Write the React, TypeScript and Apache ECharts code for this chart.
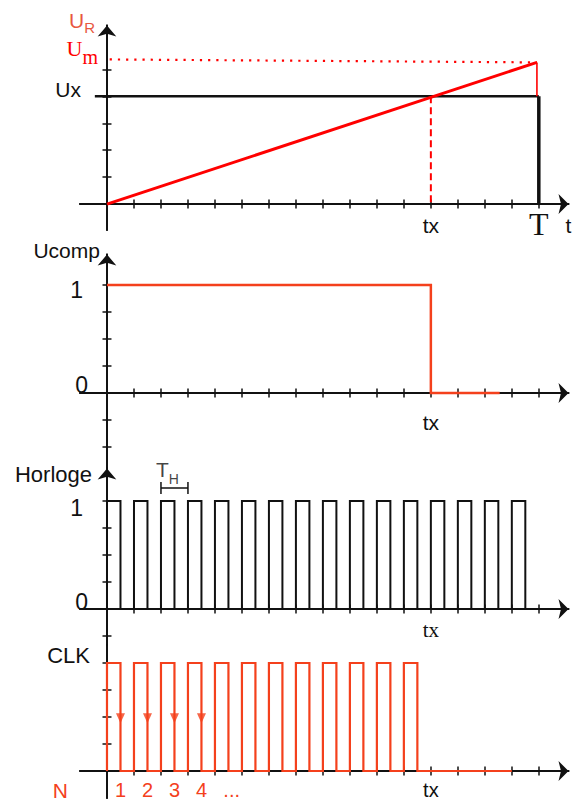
import { useEffect, useRef } from 'react';
import * as echarts from 'echarts';

// ---------- data (x in clock periods, y in grid units) ----------
// Panel 1 : ramp U_R against Ux
const uxLine = [[-0.45, 4], [16, 4]];
const uxDrop = [[16, 4], [16, 0]];
const rampLine = [[0, 0], [15.93, 5.26]];
const rampDrop = [[15.93, 5.26], [15.93, 4]];
const umDotted = [[0.1, 5.37], [15.93, 5.26]];
const txDashed = [[12, 4], [12, 0]];
// Panel 2 : comparator output
const ucompLine = [[0, 4], [12, 4], [12, 0], [14.55, 0]];
// Panel 3 : clock (rising / falling edges)
const hRise = [0, 1, 2, 3, 4, 5, 6, 7, 8, 9, 10, 11, 12, 13, 14, 15];
const hFall = [0.5, 1.5, 2.5, 3.5, 4.5, 5.5, 6.5, 7.5, 8.5, 9.5, 10.5, 11.5, 12.5, 13.5, 14.5, 15.5];
const hHigh = 4;
const thBracket = [[2, 4.7], [2, 4.26], [2, 4.48], [3, 4.48], [3, 4.7], [3, 4.26]];
const thLabelPos = [2.24, 5.15];
// Panel 4 : gated clock CLK
const clkRise = [0, 1, 2, 3, 4, 5, 6, 7, 8, 9, 10, 11];
const clkFall = [0.5, 1.5, 2.5, 3.5, 4.5, 5.5, 6.5, 7.5, 8.5, 9.5, 10.5, 11.5];
const clkHigh = 4;
const clkEnd = 15;
const clkArrowX = [0.5, 1.5, 2.5, 3.5];
const clkArrowY = 1.95;
// axis ticks / labels
const xTicks = [1, 2, 3, 4, 5, 6, 7, 8, 9, 10, 11, 12, 13, 14, 15, 16];
const nLabels = ['1', '2', '3', '4', '...'];
const nLabelX = [0.5, 1.5, 2.5, 3.5, 4.62];

const SANS = "'Liberation Sans', Arial, Helvetica, sans-serif";
const SERIF = "'Liberation Serif', 'Times New Roman', serif";
const AX = '#111111';
const RED = '#ff0000';
const RED2 = '#f4401c';
const RED_LBL = '#e8573f';

const X_MIN = -1;
const X_MAX = 17.1;
const GRID_LEFT = 80;
const GRID_WIDTH = 488.5;

const panels = [
  { top: 25.5, height: 204.5, min: -0.963, max: 6.63 },
  { top: 254.5, height: 214, min: -2.796, max: 5.13 },
  { top: 468.5, height: 176.5, min: -1.333, max: 5.204 },
  { top: 645, height: 153, min: -1.0, max: 4.667 },
];

function squareWave(rises: number[], falls: number[], high: number, end?: number) {
  const pts: number[][] = [];
  rises.forEach((r, i) => {
    pts.push([r, 0], [r, high], [falls[i], high], [falls[i], 0]);
  });
  if (end != null) pts.push([end, 0]);
  return pts;
}

const near = (a: number, b: number) => Math.abs(a - b) < 1e-6;

// axis offset so that the axis line lies on the other axis' zero
const yOffset = -(GRID_WIDTH * (0 - X_MIN)) / (X_MAX - X_MIN);
const xOffset = (g: number) => {
  const p = panels[g];
  return -(p.height * (0 - p.min)) / (p.max - p.min);
};

function xAxes(g: number, labelValues: number[], formatter: (v: number) => string, rich: any) {
  const base = {
    type: 'value', gridIndex: g, min: X_MIN, max: X_MAX, position: 'bottom',
    offset: xOffset(g), splitLine: { show: false },
  };
  return [
    {
      ...base,
      axisLine: { show: true, onZero: false, symbol: ['none', 'arrow'], symbolSize: [15, 10], lineStyle: { color: AX, width: 1.8 } },
      axisTick: { show: true, inside: false, length: 4.5, customValues: xTicks, lineStyle: { color: AX, width: 1.5 } },
      axisLabel: { show: labelValues.length > 0, customValues: labelValues, formatter, rich, margin: 4 },
    },
    {
      ...base,
      axisLine: { show: true, onZero: false, symbol: 'none', lineStyle: { color: AX, width: 1.8 } },
      axisTick: { show: true, inside: true, length: 4.5, customValues: xTicks, lineStyle: { color: AX, width: 1.5 } },
      axisLabel: { show: false },
    },
  ];
}

function yAxes(
  g: number, ticks: number[], arrow: boolean,
  labelValues: number[], formatter: (v: number) => string, rich: any,
  name?: string, nameGap?: number, nameRich?: any
) {
  const p = panels[g];
  const base = {
    type: 'value', gridIndex: g, min: p.min, max: p.max, position: 'left',
    offset: yOffset, splitLine: { show: false },
  };
  return [
    {
      ...base,
      axisLine: { show: true, onZero: false, symbol: arrow ? ['none', 'arrow'] : 'none', symbolSize: [14, 11], lineStyle: { color: AX, width: 1.8 } },
      axisTick: { show: true, inside: false, length: 4.5, customValues: ticks, lineStyle: { color: AX, width: 1.5 } },
      axisLabel: { show: true, customValues: labelValues, formatter, rich, margin: 8 },
      name: name || '',
      nameLocation: 'end',
      nameGap: nameGap || 0,
      nameMoveOverlap: false,
      nameTextStyle: { align: 'right', verticalAlign: 'middle', rich: nameRich || {} },
    },
    {
      ...base,
      axisLine: { show: true, onZero: false, symbol: 'none', lineStyle: { color: AX, width: 1.8 } },
      axisTick: { show: true, inside: true, length: 4.5, customValues: ticks, lineStyle: { color: AX, width: 1.5 } },
      axisLabel: { show: false },
    },
  ];
}

function lineSeries(g: number, data: number[][], color: string, width: number, type: any = 'solid') {
  return {
    type: 'line', xAxisIndex: 2 * g, yAxisIndex: 2 * g, data,
    showSymbol: false, symbol: 'none', silent: true, z: 3,
    lineStyle: { color, width, type, cap: 'butt', join: 'miter' },
  };
}

const grids = panels.map((p) => ({
  top: p.top, height: p.height, left: GRID_LEFT, width: GRID_WIDTH,
  containLabel: false, outerBoundsMode: 'none',
}));

const xAxis = [
  ...xAxes(0, [12, 16, 17.1], (v) => (near(v, 12) ? '{tx|tx}' : near(v, 16) ? '{T|T}' : '{t|t}'), {
    tx: { fontSize: 21, fontFamily: SANS, color: AX, padding: [6.5, 0, 0, 0] },
    T: { fontSize: 32, fontFamily: SERIF, color: AX, padding: [0, 0, 0, 0] },
    t: { fontSize: 21, fontFamily: SANS, color: AX, padding: [6.5, 0, 0, 0] },
  }),
  ...xAxes(1, [12], () => '{tx|tx}', {
    tx: { fontSize: 21, fontFamily: SANS, color: AX, padding: [14.5, 0, 0, 0] },
  }),
  ...xAxes(2, [12], () => '{tx|tx}', {
    tx: { fontSize: 21, fontFamily: SERIF, color: AX, padding: [6, 0, 0, 0] },
  }),
  ...xAxes(3, [...nLabelX, 12], (v) => {
    if (near(v, 12)) return '{tx|tx}';
    const i = nLabelX.findIndex((x) => near(x, v));
    return '{n|' + (i >= 0 ? nLabels[i] : '') + '}';
  }, {
    tx: { fontSize: 20, fontFamily: SANS, color: AX, padding: [4.5, 0, 0, 0] },
    n: { fontSize: 20, fontFamily: SANS, color: RED2, padding: [4.5, 0, 0, 0] },
  }),
];

const yAxis = [
  ...yAxes(0, [1, 2, 3, 4, 5], true, [4, 5.33],
    (v) => (near(v, 4) ? '{ux|Ux}' : '{umU|U}{umM|m}'),
    {
      ux: { fontSize: 21, fontFamily: SANS, color: AX, padding: [0, 18, 13, 0] },
      umU: { fontSize: 22, fontFamily: SERIF, color: RED, padding: [0, 0, 25, 0] },
      umM: { fontSize: 20, fontFamily: SERIF, color: RED, padding: [0, 1, 8, 0] },
    },
    '{u|U}{r|R}', 3,
    {
      u: { fontSize: 21, fontFamily: SANS, color: RED_LBL, padding: [0, 0, 4, 0] },
      r: { fontSize: 15, fontFamily: SANS, color: RED_LBL, padding: [10, 12, 0, 0] },
    }
  ),
  ...yAxes(1, [-2, -1, 1, 2, 3, 4], true, [4, 0],
    (v) => (near(v, 4) ? '{one|1}' : '{zero|0}'),
    {
      one: { fontSize: 23, fontFamily: SANS, color: AX, padding: [10, 16, 0, 0] },
      zero: { fontSize: 23, fontFamily: SANS, color: AX, padding: [0, 11, 16, 0] },
    },
    '{a|Ucomp}', 0,
    { a: { fontSize: 21, fontFamily: SANS, color: AX, padding: [0, 7, 9, 0] } }
  ),
  ...yAxes(2, [-1, 1, 2, 3, 4], true, [5.0, 4, 0],
    (v) => (near(v, 4) ? '{one|1}' : near(v, 0) ? '{zero|0}' : '{h|Horloge}'),
    {
      one: { fontSize: 23, fontFamily: SANS, color: AX, padding: [13, 16, 0, 0] },
      zero: { fontSize: 23, fontFamily: SANS, color: AX, padding: [0, 11, 15, 0] },
      h: { fontSize: 22, fontFamily: SANS, color: AX, padding: [0, 7, 0, 0] },
    }
  ),
  ...yAxes(3, [1, 2, 3, 4], false, [4.26, -0.72],
    (v) => (near(v, 4.26) ? '{c|CLK}' : '{n|N}'),
    {
      c: { fontSize: 22, fontFamily: SANS, color: AX, padding: [0, 9, 0, 0] },
      n: { fontSize: 21, fontFamily: SANS, color: RED2, padding: [0, 31, 0, 0] },
    }
  ),
];

const series: any[] = [
  // panel 1
  lineSeries(0, uxLine, AX, 2.5),
  lineSeries(0, uxDrop, AX, 3.5),
  lineSeries(0, umDotted, RED, 2.2, [2.2, 6]),
  lineSeries(0, txDashed, RED, 2, [7, 4]),
  lineSeries(0, rampLine, RED, 3),
  lineSeries(0, rampDrop, RED, 1.6),
  // panel 2
  lineSeries(1, ucompLine, RED2, 2.5),
  // panel 3
  lineSeries(2, squareWave(hRise, hFall, hHigh), AX, 2),
  lineSeries(2, thBracket, AX, 1.5),
  {
    type: 'scatter', xAxisIndex: 4, yAxisIndex: 4, data: [thLabelPos], symbolSize: 0, silent: true,
    label: {
      show: true, position: 'inside', formatter: () => '{t|T}{h|H}',
      rich: {
        t: { fontSize: 21, fontFamily: SANS, color: AX },
        h: { fontSize: 14, fontFamily: SANS, color: AX, padding: [18, 0, 0, 0] },
      },
    },
  },
  // panel 4
  lineSeries(3, squareWave(clkRise, clkFall, clkHigh, clkEnd), RED2, 2.2),
  {
    type: 'scatter', xAxisIndex: 6, yAxisIndex: 6, silent: true, z: 4,
    data: clkArrowX.map((x) => [x, clkArrowY]),
    symbol: 'triangle', symbolRotate: 180, symbolSize: [9, 10],
    itemStyle: { color: RED2 },
  },
];

const option = {
  animation: false,
  backgroundColor: '#ffffff',
  grid: grids,
  xAxis,
  yAxis,
  series,
};

export default function App() {
  const ref = useRef<HTMLDivElement>(null);
  useEffect(() => {
    const chart = echarts.init(ref.current as HTMLDivElement, null, { renderer: 'svg' });
    chart.setOption(option as any);
    return () => chart.dispose();
  }, []);
  return (
    <div
      ref={ref}
      style={{ position: 'fixed', left: 0, top: 0, width: 574, height: 801, background: '#fff' }}
    />
  );
}
